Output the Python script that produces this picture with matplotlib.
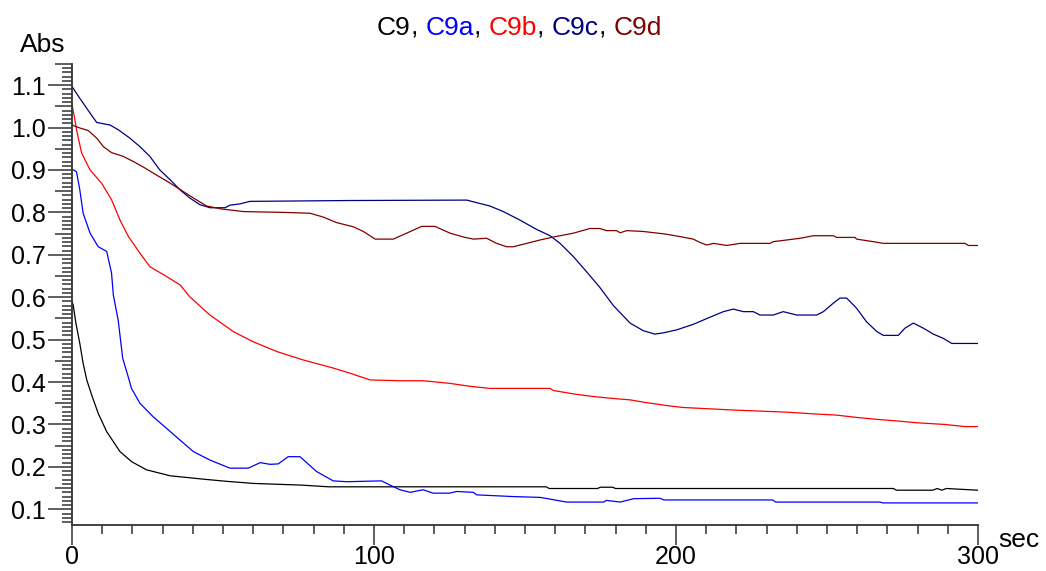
import numpy as np
import matplotlib

matplotlib.use('Agg')
from matplotlib import pyplot as plt
from matplotlib.ticker import MultipleLocator, FormatStrFormatter

plt.rcParams['font.family'] = ['Liberation Sans', 'DejaVu Sans']

# absorbance traces (sec, Abs)
c9_t = [0, 0.4, 1.3, 2.6, 3.7, 4.9, 6.5, 8.7, 11.5, 15.9, 19.8, 24.7, 32.5, 43.5, 51, 60, 76, 85,
        157, 158, 174, 175, 179, 180, 272, 273, 285, 286.5, 288, 289.5, 300]
c9_a = [0.59, 0.582, 0.539, 0.491, 0.444, 0.405, 0.37, 0.326, 0.283, 0.236, 0.212, 0.193, 0.179, 0.171,
        0.166, 0.161, 0.157, 0.153, 0.153, 0.149, 0.149, 0.152, 0.152, 0.149, 0.149, 0.145, 0.145, 0.149,
        0.145, 0.149, 0.145]

c9a_t = [0, 1.5, 2.6, 3.7, 6, 8.7, 11.5, 13.1, 13.7, 15.3, 16.8, 18.6, 19.7, 22.5, 26.9, 31.3, 35.8,
         40.2, 45.7, 52.3, 58.4, 62.3, 65.6, 68.3, 71.6, 75.5, 81, 86.5, 91, 102.5, 105.3, 108.6, 112,
         116.3, 119.6, 125, 127.4, 132.9, 134, 146, 155, 158.3, 163.8, 176, 177, 181.5, 186, 194.7, 196,
         232, 233, 267.5, 268.5, 300]
c9a_a = [0.902, 0.896, 0.853, 0.798, 0.751, 0.719, 0.708, 0.657, 0.605, 0.546, 0.456, 0.413, 0.385,
         0.35, 0.318, 0.291, 0.263, 0.236, 0.216, 0.197, 0.197, 0.21, 0.206, 0.207, 0.224, 0.224, 0.189,
         0.167, 0.165, 0.167, 0.157, 0.146, 0.14, 0.146, 0.138, 0.138, 0.142, 0.14, 0.134, 0.13, 0.128,
         0.124, 0.117, 0.117, 0.121, 0.117, 0.125, 0.126, 0.122, 0.122, 0.117, 0.117, 0.115, 0.115]

c9b_t = [0, 1, 1.5, 3.2, 6, 9.8, 13.1, 15.9, 18.7, 22.5, 25.8, 31.3, 35.8, 39, 45.7, 53.4, 60, 67.8,
         76.6, 86.5, 92, 98.7, 108.6, 116.3, 125, 131.8, 138.4, 158.3, 159.4, 167, 172.5, 178, 184.8,
         189.7, 193.6, 197.5, 202.4, 219, 236.7, 245.5, 253.2, 259.3, 266.5, 273.6, 279.7, 289, 295.7, 300]
c9b_a = [1.054, 1.018, 0.995, 0.94, 0.9, 0.869, 0.83, 0.782, 0.743, 0.704, 0.672, 0.649, 0.629, 0.601,
         0.558, 0.519, 0.495, 0.472, 0.452, 0.433, 0.421, 0.405, 0.403, 0.403, 0.397, 0.39, 0.385, 0.385,
         0.38, 0.371, 0.366, 0.362, 0.358, 0.352, 0.348, 0.344, 0.34, 0.334, 0.329, 0.325, 0.322, 0.317,
         0.312, 0.308, 0.304, 0.3, 0.295, 0.295]

c9c_t = [0, 2.6, 6, 8.2, 12.6, 15.3, 19.2, 22.5, 25.8, 29.1, 32.5, 35.8, 39, 42.4, 45.7, 50.7, 52.3,
         55.6, 58.9, 92, 130.7, 134, 138.4, 142.8, 148.3, 153.8, 158.3, 161.6, 166, 170.4, 174.8, 179.3,
         184.8, 189.2, 193, 195.8, 200.2, 205.7, 211.3, 215.7, 219, 222.3, 225.6, 227.8, 232.2, 235.5,
         240, 246.6, 248.8, 252.1, 254.3, 256.5, 259.8, 263.1, 266.5, 268.7, 273.6, 275.8, 278.6, 281.9,
         285.2, 288.5, 291.3, 300]
c9c_a = [1.097, 1.069, 1.034, 1.012, 1.006, 0.995, 0.975, 0.955, 0.932, 0.9, 0.877, 0.853, 0.834,
         0.818, 0.811, 0.811, 0.817, 0.82, 0.826, 0.828, 0.829, 0.823, 0.815, 0.802, 0.782, 0.76, 0.745,
         0.727, 0.696, 0.66, 0.623, 0.58, 0.539, 0.521, 0.513, 0.516, 0.523, 0.536, 0.553, 0.566, 0.572,
         0.566, 0.566, 0.558, 0.558, 0.566, 0.558, 0.558, 0.566, 0.586, 0.598, 0.598, 0.574, 0.542, 0.519,
         0.51, 0.51, 0.527, 0.539, 0.527, 0.513, 0.503, 0.491, 0.491]

c9d_t = [0, 2.6, 5.4, 8.2, 10.4, 13.1, 17, 20.3, 23.6, 28, 32.5, 36.9, 40.2, 44.6, 49.6, 56.7, 70,
         78.8, 83.2, 87.6, 93.2, 96.5, 100.4, 106.4, 110.8, 115.8, 120.2, 125.2, 129.6, 132.9, 137.3,
         140.6, 143.9, 146.1, 150.6, 155, 159.4, 166, 171.5, 174.8, 177, 180.3, 181.5, 183.7, 189.2,
         196.4, 201.3, 205.7, 208, 210.2, 212.4, 216.8, 221.2, 231.1, 232.2, 236.7, 241.1, 245.5, 252.1,
         253.2, 259.3, 259.8, 265.3, 268.7, 295.7, 296.8, 300]
c9d_a = [1.006, 0.999, 0.993, 0.975, 0.955, 0.941, 0.932, 0.92, 0.907, 0.888, 0.869, 0.849, 0.834,
         0.815, 0.808, 0.802, 0.8, 0.798, 0.789, 0.776, 0.766, 0.755, 0.737, 0.737, 0.751, 0.767, 0.767,
         0.751, 0.742, 0.737, 0.739, 0.727, 0.719, 0.719, 0.727, 0.735, 0.742, 0.751, 0.762, 0.762, 0.757,
         0.757, 0.752, 0.757, 0.755, 0.749, 0.743, 0.737, 0.729, 0.723, 0.727, 0.722, 0.727, 0.727, 0.731,
         0.735, 0.739, 0.745, 0.745, 0.741, 0.741, 0.737, 0.731, 0.727, 0.727, 0.722, 0.722]

names = ['C9', 'C9a', 'C9b', 'C9c', 'C9d']
colors = ['#000000', '#0000ff', '#ff0000', '#000080', '#800000']
traces = [(c9_t, c9_a), (c9a_t, c9a_a), (c9b_t, c9b_a), (c9c_t, c9c_a), (c9d_t, c9d_a)]

fig = plt.figure(figsize=(10.46, 5.71), dpi=100)
ax = fig.add_axes([0.0688, 0.0806, 0.8662, 0.8074])

for (t, a), col in zip(traces, colors):
    ax.plot(t, a, color=col, lw=0.9)

ax.set_xlim(0, 300)
ax.set_ylim(0.063, 1.15)
for side in ['top', 'right']:
    ax.spines[side].set_visible(False)
for side in ['left', 'bottom']:
    ax.spines[side].set_color('#333333')
    ax.spines[side].set_linewidth(1.3)

ax.xaxis.set_major_locator(MultipleLocator(100))
ax.xaxis.set_minor_locator(MultipleLocator(10))
ax.yaxis.set_major_locator(MultipleLocator(0.1))
ax.yaxis.set_minor_locator(MultipleLocator(0.01))
ax.yaxis.set_major_formatter(FormatStrFormatter('%.1f'))
ax.xaxis.set_major_formatter(FormatStrFormatter('%d'))

ax.tick_params(axis='both', which='both', direction='out', color='#333333', width=1.1,
               labelsize=18, labelcolor='black')
ax.tick_params(axis='y', which='major', length=17, pad=2)
ax.tick_params(axis='y', which='minor', length=7.5)
ax.tick_params(axis='x', which='major', length=14.5, pad=0)
ax.tick_params(axis='x', which='minor', length=6.5)

# half-step ticks (0.05, 0.15, ...) are drawn longer than the rest
locs = ax.yaxis.get_minorticklocs()
for tick, loc in zip(ax.yaxis.get_minor_ticks(len(locs)), locs):
    if abs(loc * 100 - round(loc * 20) * 5) < 1e-6:
        tick.tick1line.set_markersize(12.5)

fig.text(20 / 1046, 1 - 52 / 571, 'Abs', fontsize=19, va='baseline', ha='left')
fig.text(998 / 1046, 1 - 547 / 571, 'sec', fontsize=19, va='baseline', ha='left')

# coloured title, pieces chained left to right
parts = []
for i, (nm, col) in enumerate(zip(names, colors)):
    parts.append((nm, col))
    if i < len(names) - 1:
        parts.append((', ', 'black'))

prev = fig.text(377 / 1046, 1 - 35 / 571, parts[0][0], color=parts[0][1], fontsize=19,
                va='baseline', ha='left')
for txt, col in parts[1:]:
    prev = ax.annotate(txt, xy=(1, 0), xycoords=prev, color=col, fontsize=19,
                       va='bottom', ha='left', annotation_clip=False)

fig.savefig('out.png', dpi=100)
